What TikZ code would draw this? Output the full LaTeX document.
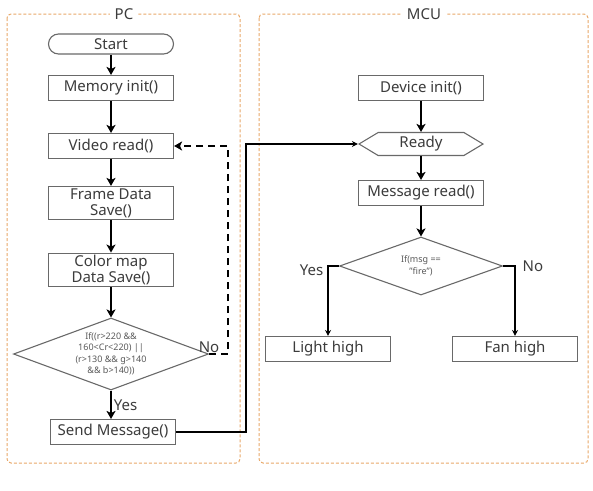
\documentclass[tikz,border=0pt]{standalone}
\usepackage{fontspec}
\setmainfont{Noto Sans}
\usetikzlibrary{shapes.geometric,shapes.symbols,arrows.meta}
\definecolor{framecol}{RGB}{232,168,105}
\definecolor{textcol}{RGB}{60,60,60}
\definecolor{edgecol}{RGB}{105,105,105}
\begin{document}
\begin{tikzpicture}
[x=1pt,y=-1pt,
  boxdecorate/.style={shape=rectangle,draw=edgecol,line width=1.1pt,fill=white,minimum width=125pt,minimum height=25pt,inner xsep=3pt,inner ysep=2pt,align=center,text=textcol,font=\fontsize{15}{16}\selectfont},
  termdecorate/.style={boxdecorate,minimum height=20pt,rounded corners=10pt,inner ysep=0pt},
  condecorate/.style={shape=diamond,draw=edgecol,line width=1.1pt,fill=white,inner sep=0pt,aspect=2.7,align=center,text=textcol!85,font=\fontsize{9}{11.5}\selectfont},
  readydecorate/.style={shape=signal,signal to=west and east,signal pointer angle=62,draw=edgecol,line width=1.1pt,fill=white,minimum width=124pt,minimum height=23pt,inner sep=0pt,text=textcol,font=\fontsize{15}{16}\selectfont},
  labeldecorate/.style={text=textcol,font=\fontsize{15}{16}\selectfont,inner sep=1pt},
  linedecorate/.style={-{Stealth[length=8pt,width=9pt,inset=2pt]},line width=1.9pt},
  thindecorate/.style={-{Stealth[length=6pt,width=6pt]},line width=1.3pt},
  framedecorate/.style={draw=framecol,dash pattern=on 3pt off 2pt,rounded corners=4pt,line width=1pt}]
\useasboundingbox (0,0) rectangle (593,490);
%% frames
\draw[framedecorate] (7,14) rectangle (240,463);
\draw[framedecorate] (259,14) rectangle (588,463);
\node (pctitle) at (124,14) [labeldecorate,fill=white,inner xsep=5pt] {PC};
\node (mcutitle) at (424,14) [labeldecorate,fill=white,inner xsep=5pt] {MCU};
%% nodes
\node (start) at (111,44) [termdecorate] {Start};
\foreach \nodename/\x/\y/\nodetext in {mem/111/88/{Memory init()}, video/111/146/{Video read()},
  frame/111/203/{Frame Data\\Save()}, color/111/270/{Color map\\Data Save()}, send/113/432/{Send Message()},
  dev/421/88/{Device init()}, msg/421/193/{Message read()}, light/328/349/{Light high}, fan/515/349/{Fan high}} {
  \node (\nodename) at (\x,\y) [boxdecorate] {\nodetext};
}
\node (cond) at (111,354) [condecorate,minimum width=195pt,minimum height=72pt]
  {If((r>220 \&\&\\160<Cr<220) ||\\(r>130 \&\& g>140\\\&\& b>140))};
\node (ready) at (421,144) [readydecorate] {Ready};
\node (chk) at (421,266) [condecorate,minimum width=163pt,minimum height=58pt] {If(msg ==\\"fire")};
%% edges
\path
\foreach \startnode/\endnode in {start/mem, mem/video, video/frame, frame/color, color/cond, dev/ready, ready/msg, msg/chk} {
  (\startnode) edge[linedecorate] (\endnode)
};
\draw[linedecorate] (cond.south) -- node[labeldecorate,right=1pt] {Yes} (cond.south |- send.north);
\draw[linedecorate,dash pattern=on 7pt off 5pt] (cond.east) -- ++(19,0) |- (video.east);
\node (nolabel) at (cond.east) [labeldecorate,above=0pt] {No};
\draw[thindecorate] (send.east) -- ++(70,0) |- (ready.west);
\draw[thindecorate] (chk.west) -| node[labeldecorate,pos=0.5,left=3pt,yshift=-4pt] {Yes} (light.north);
\draw[thindecorate] (chk.east) -| node[labeldecorate,pos=0.5,right=6pt] {No} (fan.north);
\end{tikzpicture}
\end{document}
